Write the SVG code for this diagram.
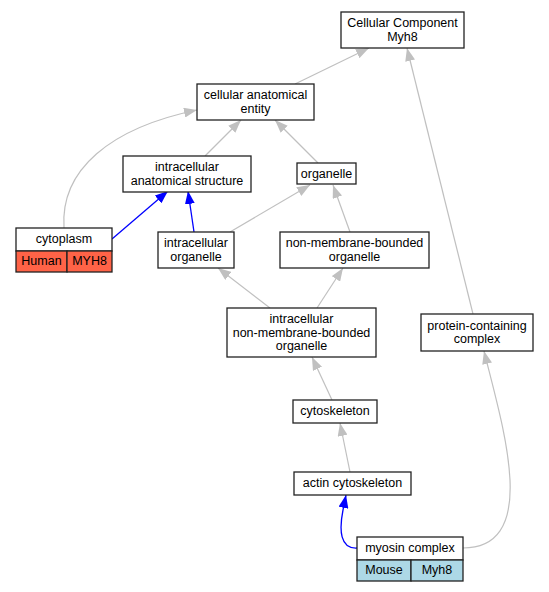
<svg xmlns="http://www.w3.org/2000/svg" width="549" height="592" viewBox="0 0 549 592">
<style>
  .box { fill: #ffffff; stroke: #222222; stroke-width: 1.3; }
  .human { fill: #ff6347; stroke: #222222; stroke-width: 1.3; }
  .mouse { fill: #add8e6; stroke: #222222; stroke-width: 1.3; }
  text { font-family: "Liberation Sans", Arial, sans-serif; font-size: 12.5px; fill: #000000; text-anchor: middle; }
  .g { fill: none; stroke: #c0c0c0; stroke-width: 1.2; }
  .b { fill: none; stroke: #0000ff; stroke-width: 1.3; }
</style>
<defs>
  <marker id="ag" viewBox="0 0 13 10" refX="13" refY="5" markerWidth="13" markerHeight="10" markerUnits="userSpaceOnUse" orient="auto">
    <path d="M0,0 L13,5 L0,10 z" fill="#c0c0c0"/>
  </marker>
  <marker id="ab" viewBox="0 0 13 10" refX="13" refY="5" markerWidth="13" markerHeight="10" markerUnits="userSpaceOnUse" orient="auto">
    <path d="M0,0 L13,5 L0,10 z" fill="#0000ff"/>
  </marker>
</defs>
<rect width="549" height="592" fill="#ffffff"/>
<g id="edges">
  <path class="g" d="M295,84 L369,48" marker-end="url(#ag)"/>
  <path class="g" d="M473,314 L407,48" marker-end="url(#ag)"/>
  <path class="g" d="M64,228 C60,170 110,128 197,110" marker-end="url(#ag)"/>
  <path class="g" d="M205,156 L241,120" marker-end="url(#ag)"/>
  <path class="g" d="M318,163 L275,120" marker-end="url(#ag)"/>
  <path class="b" d="M112,239 L168,191" marker-end="url(#ab)"/>
  <path class="b" d="M194,232 L188,191" marker-end="url(#ab)"/>
  <path class="g" d="M230,232 L310,185" marker-end="url(#ag)"/>
  <path class="g" d="M350,232 L333,185" marker-end="url(#ag)"/>
  <path class="g" d="M270,308 L218,268" marker-end="url(#ag)"/>
  <path class="g" d="M317,308 L343,268" marker-end="url(#ag)"/>
  <path class="g" d="M332,400 L312,357" marker-end="url(#ag)"/>
  <path class="g" d="M350,472 L340,423" marker-end="url(#ag)"/>
  <path class="b" d="M357,548 C340,549 339,530 343,510 L346,495" marker-end="url(#ab)"/>
  <path class="g" d="M463,548 C497,548 512,525 510,480 C508,440 495,395 484,351" marker-end="url(#ag)"/>
</g>
<g id="node-cc-myh8">
  <rect class="box" x="341" y="12" width="123" height="36"/>
  <text x="402.5" y="27">Cellular Component</text>
  <text x="402.5" y="40.5">Myh8</text>
</g>
<g id="node-cae">
  <rect class="box" x="197" y="84" width="117" height="36"/>
  <text x="255.5" y="99">cellular anatomical</text>
  <text x="255.5" y="112.5">entity</text>
</g>
<g id="node-ias">
  <rect class="box" x="123" y="156" width="128" height="36"/>
  <text x="187" y="171">intracellular</text>
  <text x="187" y="184.5">anatomical structure</text>
</g>
<g id="node-organelle">
  <rect class="box" x="297" y="163" width="59" height="21"/>
  <text x="326.5" y="177.5">organelle</text>
</g>
<g id="node-cytoplasm">
  <rect class="box" x="16" y="228" width="96" height="23"/>
  <rect class="human" x="16" y="251" width="51" height="21"/>
  <rect class="human" x="67" y="251" width="45" height="21"/>
  <text x="64" y="243">cytoplasm</text>
  <text x="41.5" y="265">Human</text>
  <text x="89.5" y="265">MYH8</text>
</g>
<g id="node-io">
  <rect class="box" x="158" y="232" width="76" height="36"/>
  <text x="196" y="247">intracellular</text>
  <text x="196" y="260.5">organelle</text>
</g>
<g id="node-nmbo">
  <rect class="box" x="280" y="232" width="149" height="36"/>
  <text x="354.5" y="247">non-membrane-bounded</text>
  <text x="354.5" y="260.5">organelle</text>
</g>
<g id="node-inmbo">
  <rect class="box" x="227" y="308" width="149" height="49"/>
  <text x="301.5" y="323">intracellular</text>
  <text x="301.5" y="336.5">non-membrane-bounded</text>
  <text x="301.5" y="350">organelle</text>
</g>
<g id="node-pcc">
  <rect class="box" x="421" y="314" width="112" height="37"/>
  <text x="477" y="329.5">protein-containing</text>
  <text x="477" y="343">complex</text>
</g>
<g id="node-cytoskeleton">
  <rect class="box" x="293" y="400" width="84" height="23"/>
  <text x="335" y="415">cytoskeleton</text>
</g>
<g id="node-actin">
  <rect class="box" x="294" y="472" width="117" height="23"/>
  <text x="352.5" y="487">actin cytoskeleton</text>
</g>
<g id="node-myosin">
  <rect class="box" x="357" y="537" width="106" height="23"/>
  <rect class="mouse" x="357" y="560" width="54" height="21"/>
  <rect class="mouse" x="411" y="560" width="52" height="21"/>
  <text x="410" y="552">myosin complex</text>
  <text x="384" y="574">Mouse</text>
  <text x="437" y="574">Myh8</text>
</g>
</svg>
